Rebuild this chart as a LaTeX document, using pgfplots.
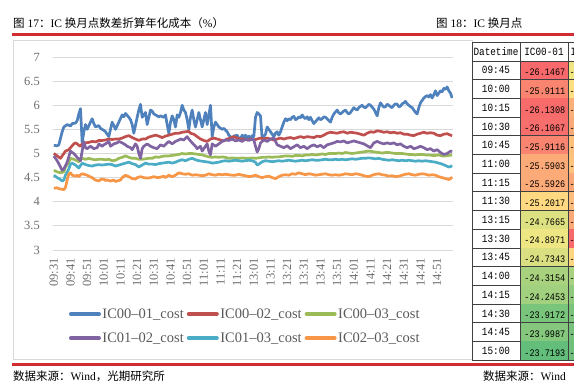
\documentclass[border=0pt]{standalone}
\usepackage{fontspec}
\usepackage{pgfplots}
\pgfplotsset{compat=1.18}
\setmainfont{Liberation Serif}
\newfontfamily\cjk{Noto Sans CJK SC}
\newfontfamily\tabfont[FakeStretch=0.85]{Liberation Mono}
\definecolor{s1}{HTML}{4F81BD}
\definecolor{s2}{HTML}{C0504D}
\definecolor{s3}{HTML}{9BBB59}
\definecolor{s4}{HTML}{8064A2}
\definecolor{s5}{HTML}{4BACC6}
\definecolor{s6}{HTML}{F79646}
\definecolor{gridc}{HTML}{D9D9D9}
\definecolor{tickc}{HTML}{6E6E6E}
\definecolor{legc}{HTML}{5A5A5A}
\definecolor{redline}{RGB}{208,44,50}
\definecolor{tabline}{HTML}{404040}
\definecolor{h0}{RGB}{248,105,107}
\definecolor{h1}{RGB}{249,133,112}
\definecolor{h2}{RGB}{248,107,107}
\definecolor{h3}{RGB}{248,110,108}
\definecolor{h4}{RGB}{249,133,112}
\definecolor{h5}{RGB}{252,171,120}
\definecolor{h6}{RGB}{252,171,120}
\definecolor{h7}{RGB}{254,217,129}
\definecolor{h8}{RGB}{222,225,130}
\definecolor{h9}{RGB}{237,230,131}
\definecolor{h10}{RGB}{218,224,130}
\definecolor{h11}{RGB}{169,210,127}
\definecolor{h12}{RGB}{161,208,127}
\definecolor{h13}{RGB}{122,197,124}
\definecolor{h14}{RGB}{132,199,125}
\definecolor{h15}{RGB}{99,190,123}
\definecolor{g0}{RGB}{240,229,131}
\definecolor{g1}{RGB}{253,222,129}
\definecolor{g2}{RGB}{251,176,121}
\definecolor{g3}{RGB}{251,170,119}
\definecolor{g4}{RGB}{253,192,124}
\definecolor{g5}{RGB}{253,195,125}
\definecolor{g6}{RGB}{251,166,119}
\definecolor{g7}{RGB}{252,188,123}
\definecolor{g8}{RGB}{251,170,119}
\definecolor{g9}{RGB}{248,105,107}
\definecolor{g10}{RGB}{254,214,128}
\definecolor{g11}{RGB}{168,210,127}
\definecolor{g12}{RGB}{143,202,125}
\definecolor{g13}{RGB}{124,196,124}
\definecolor{g14}{RGB}{118,194,124}
\definecolor{g15}{RGB}{110,192,123}
\begin{document}
\begin{tikzpicture}[x=1pt,y=1pt]
\useasboundingbox (0,0) rectangle (574,385);
% titles
\node[anchor=base west, inner sep=0pt, font=\fontsize{11.5}{13}\selectfont] at (13,357)
  {{\cjk 图} 17{\cjk ：}IC {\cjk 换月点数差折算年化成本（}\%{\cjk ）}};
\node[anchor=base west, inner sep=0pt, font=\fontsize{11.5}{13}\selectfont] at (436,357)
  {{\cjk 图} 18{\cjk ：}IC {\cjk 换月点}};
\fill[redline] (12,348.5) rectangle (574,351.5);
\fill[redline] (12,18.5) rectangle (574,21.5);
\node[anchor=base west, inner sep=0pt, font=\fontsize{11.5}{13}\selectfont] at (13,4)
  {{\cjk 数据来源：}Wind{\cjk ，光期研究所}};
\node[anchor=base west, inner sep=0pt, font=\fontsize{11.5}{13}\selectfont] at (483,4)
  {{\cjk 数据来源：}Wind};
% chart frame
\draw[gridc, line width=0.8pt] (13,26) rectangle (472,345);
% table
\def\rowh{18.7}
\node[font=\tabfont\fontsize{11}{12}\selectfont] at (496,333) {Datetime};
\node[font=\tabfont\fontsize{11}{12}\selectfont] at (544,333) {IC00-01};
\node[anchor=west, inner sep=0pt, font=\tabfont\fontsize{11}{12}\selectfont] at (570.5,333) {IC00-02};
\foreach \t/\v [count=\k from 0] in {09:45/-26.1467,10:00/-25.9111,10:15/-26.1308,10:30/-26.1067,10:45/-25.9116,11:00/-25.5903,11:15/-25.5926,11:30/-25.2017,13:15/-24.7665,13:30/-24.8971,13:45/-24.7343,14:00/-24.3154,14:15/-24.2453,14:30/-23.9172,14:45/-23.9987,15:00/-23.7193}{
  \pgfmathsetmacro\ytop{324-\rowh*\k}
  \pgfmathsetmacro\ybot{\ytop-\rowh}
  \fill[h\k] (520,\ybot) rectangle (568,\ytop);
  \fill[g\k] (568,\ybot) rectangle (580,\ytop);
  \node[font=\tabfont\fontsize{11}{12}\selectfont] at (496,{(\ytop+\ybot)/2}) {\t};
  \node[anchor=base east, inner sep=0pt, font=\tabfont\fontsize{10}{11}\selectfont] at (565.5,\ybot+4) {\v};
  \node[anchor=base west, inner sep=0pt, font=\tabfont\fontsize{10}{11}\selectfont] at (569.3,\ybot+4) {-};
  \draw[tabline, line width=0.8pt] (472,\ybot) -- (580,\ybot);
}
\draw[tabline, line width=0.8pt] (472,342.3) -- (580,342.3);
\draw[tabline, line width=0.8pt] (472,324) -- (580,324);
\foreach \xx in {472,520,568}{\draw[tabline, line width=0.8pt] (\xx,342.3) -- (\xx,24.8);}
% chart
\begin{axis}[
  at={(53pt,135pt)}, anchor=south west,
  width=400pt, height=193pt, scale only axis,
  xmin=-0.5, xmax=239.5, ymin=3, ymax=7,
  enlargelimits=false,
  ytick={3,3.5,4,4.5,5,5.5,6,6.5,7},
  xtick={0,10,...,230},
  xticklabels={09:31,09:41,09:51,10:01,10:11,10:21,10:31,10:41,10:51,11:01,11:11,11:21,13:01,13:11,13:21,13:31,13:41,13:51,14:01,14:11,14:21,14:31,14:41,14:51},
  axis line style={draw=none},
  tick style={draw=none},
  major tick length=0pt,
  ymajorgrids,
  grid style={gridc, line width=0.9pt},
  tick label style={font=\fontsize{12.5}{14}\selectfont, text=tickc},
  xticklabel style={rotate=90, anchor=east, inner sep=0pt},
  xticklabel shift=8pt,
  yticklabel style={anchor=east, inner sep=0pt},
  yticklabel shift=13pt,
  /pgf/number format/assume math mode=true,
  every axis plot/.append style={line width=2.7pt, line join=round, mark=none},
  legend columns=3,
  legend cell align=left,
  legend image code/.code={\draw[line width=4pt, line cap=round] (2pt,0pt) -- (30pt,0pt);},
  legend style={at={(0.48,-0.394)}, anchor=center, draw=none, fill=none,
    font=\fontsize{14.5}{16}\selectfont, text=legc, inner sep=0pt,
    nodes={inner xsep=1.5pt, inner ysep=1pt},
    /tikz/every even column/.append style={column sep=1.5pt},
    row sep=11pt},
]
\addplot[s1] coordinates {(0,5.17)(2,5.16)(3,5.18)(5,5.45)(6,5.55)(8,5.6)(10,5.57)(11,5.62)(13,5.63)(14,5.68)(15,5.82)(16,5.93)(17,5.22)(18,5.45)(19,5.6)(20,5.5)(22,5.65)(23,5.72)(24,5.62)(25,5.55)(27,5.58)(28,5.52)(30,5.48)(31,5.45)(33,5.35)(34,5.5)(35,5.65)(36,5.58)(37,5.5)(39,5.65)(41,5.8)(42,5.76)(43,5.83)(45,5.75)(46,5.7)(47,5.6)(48,5.42)(50,5.75)(51,5.9)(52,6.02)(53,5.75)(54,5.8)(55,5.85)(56,5.6)(57,5.75)(58,5.9)(59,5.88)(60,5.82)(61,5.8)(63,5.76)(64,5.78)(66,5.75)(67,5.8)(68,5.6)(69,5.42)(70,5.65)(71,5.78)(72,5.7)(73,5.55)(74,5.8)(75,5.75)(76,5.85)(77,6.0)(78,5.9)(79,5.85)(80,5.7)(81,5.5)(82,5.75)(83,5.9)(84,5.7)(85,5.55)(86,5.7)(87,5.85)(88,5.7)(89,5.55)(90,5.7)(91,5.85)(92,5.6)(93,5.8)(94,6.0)(95,5.35)(96,5.55)(97,5.65)(98,5.6)(99,5.55)(101,5.5)(102,5.52)(104,5.45)(105,5.38)(106,5.35)(107,5.3)(108,5.36)(110,5.38)(111,5.32)(112,5.3)(113,5.38)(114,5.34)(115,5.38)(116,5.32)(117,5.36)(118,5.3)(119,5.37)(120,5.35)(121,5.75)(122,5.85)(123,5.82)(124,5.78)(125,5.3)(126,5.35)(127,5.4)(128,5.55)(129,5.5)(130,5.45)(131,5.4)(132,5.35)(133,5.42)(134,5.45)(135,5.38)(136,5.45)(137,5.55)(138,5.65)(139,5.72)(140,5.68)(141,5.72)(142,5.7)(143,5.75)(144,5.77)(145,5.7)(146,5.72)(147,5.76)(148,5.74)(149,5.8)(150,5.75)(151,5.72)(152,5.76)(153,5.7)(154,5.75)(155,5.68)(156,5.62)(157,5.66)(158,5.7)(159,5.74)(160,5.7)(161,5.72)(162,5.76)(163,5.75)(164,5.72)(165,5.68)(166,5.65)(167,5.75)(168,5.82)(169,5.86)(170,5.9)(171,5.84)(172,5.82)(173,5.85)(174,5.88)(175,5.9)(176,5.85)(177,5.82)(178,5.85)(179,5.9)(180,5.95)(181,5.92)(182,5.9)(183,5.95)(184,5.98)(185,6.0)(186,5.96)(187,5.95)(188,5.98)(189,6.02)(190,6.0)(191,5.96)(192,5.92)(193,5.85)(194,5.78)(195,5.95)(196,6.05)(197,6.0)(198,5.96)(199,5.97)(200,6.02)(201,6.0)(202,5.97)(203,5.95)(204,6.0)(205,6.03)(206,6.02)(207,5.97)(208,5.98)(209,6.03)(210,6.05)(211,6.08)(212,6.03)(213,6.0)(214,5.97)(215,5.95)(216,5.9)(217,5.85)(218,5.82)(219,5.95)(220,6.05)(221,6.1)(222,6.15)(223,6.18)(224,6.2)(225,6.17)(226,6.22)(227,6.15)(228,6.22)(229,6.3)(230,6.2)(231,6.25)(232,6.3)(233,6.28)(234,6.35)(235,6.33)(236,6.38)(237,6.3)(238,6.25)(239,6.15)};
\addlegendentry{IC00–01\_cost}
\addplot[s2] coordinates {(0,5.0)(2,4.95)(4,4.9)(6,5.0)(7,5.05)(9,5.08)(10,5.12)(12,5.2)(13,5.22)(14,5.2)(15,5.17)(16,5.15)(17,5.2)(19,5.22)(21,5.23)(23,5.25)(25,5.24)(27,5.27)(29,5.27)(31,5.28)(33,5.3)(35,5.29)(37,5.3)(39,5.3)(41,5.32)(43,5.35)(45,5.37)(47,5.33)(49,5.3)(51,5.27)(53,5.3)(55,5.3)(57,5.34)(59,5.36)(61,5.38)(63,5.36)(65,5.33)(67,5.36)(69,5.38)(71,5.4)(73,5.42)(75,5.42)(77,5.44)(79,5.45)(81,5.46)(82,5.42)(84,5.4)(86,5.35)(88,5.3)(90,5.27)(92,5.25)(94,5.3)(96,5.32)(98,5.3)(100,5.28)(102,5.26)(104,5.3)(106,5.32)(108,5.35)(110,5.32)(112,5.3)(114,5.3)(116,5.28)(118,5.3)(120,5.28)(122,5.3)(124,5.32)(126,5.3)(128,5.32)(130,5.3)(132,5.28)(134,5.3)(136,5.32)(138,5.3)(140,5.32)(142,5.33)(144,5.31)(146,5.33)(148,5.35)(150,5.33)(152,5.35)(154,5.34)(156,5.33)(158,5.36)(160,5.35)(162,5.38)(164,5.42)(166,5.44)(168,5.43)(170,5.42)(172,5.44)(174,5.45)(176,5.42)(178,5.44)(180,5.43)(182,5.42)(184,5.4)(186,5.38)(188,5.42)(190,5.45)(192,5.44)(194,5.47)(196,5.46)(198,5.44)(200,5.45)(202,5.43)(204,5.44)(206,5.42)(208,5.43)(210,5.4)(212,5.4)(214,5.38)(216,5.37)(218,5.4)(220,5.42)(222,5.44)(224,5.42)(226,5.43)(228,5.42)(230,5.38)(232,5.37)(234,5.4)(236,5.41)(238,5.38)(239,5.37)};
\addlegendentry{IC00–02\_cost}
\addplot[s3] coordinates {(0,4.65)(2,4.62)(4,4.6)(6,4.62)(7,4.72)(9,4.82)(10,4.9)(12,4.88)(14,4.85)(15,4.83)(17,4.9)(19,4.88)(21,4.9)(23,4.88)(25,4.87)(27,4.88)(29,4.88)(31,4.87)(33,4.88)(35,4.85)(37,4.86)(39,4.9)(41,4.92)(43,4.95)(45,4.92)(47,4.9)(49,4.9)(51,4.88)(53,4.88)(55,4.89)(57,4.9)(59,4.9)(61,4.93)(63,4.92)(65,4.94)(67,4.95)(69,4.95)(71,4.96)(73,4.97)(75,4.98)(77,5.0)(79,4.99)(81,5.0)(83,5.0)(85,4.99)(87,4.98)(89,4.97)(91,4.95)(93,4.93)(95,4.92)(97,4.93)(99,4.92)(101,4.93)(103,4.92)(105,4.9)(107,4.91)(109,4.9)(111,4.9)(113,4.91)(115,4.9)(117,4.9)(119,4.91)(121,4.9)(123,4.91)(125,4.92)(127,4.92)(129,4.93)(131,4.92)(133,4.93)(135,4.93)(137,4.94)(139,4.95)(141,4.95)(143,4.94)(145,4.96)(147,4.96)(149,4.95)(151,4.97)(153,4.97)(155,4.98)(157,4.97)(159,4.98)(161,4.99)(163,4.98)(165,5.0)(167,5.0)(169,5.0)(171,5.01)(173,5.0)(175,5.02)(177,5.01)(179,5.0)(181,5.01)(183,5.02)(185,5.03)(187,5.04)(189,5.05)(191,5.04)(193,5.03)(195,5.02)(197,5.01)(199,5.02)(201,5.02)(203,5.01)(205,5.0)(207,5.0)(209,5.0)(211,4.99)(213,4.98)(215,4.98)(217,4.97)(219,4.98)(221,4.98)(223,4.97)(225,4.97)(227,4.96)(229,4.96)(231,4.97)(233,4.95)(235,4.95)(237,4.96)(239,4.97)};
\addlegendentry{IC00–03\_cost}
\addplot[s4] coordinates {(0,4.95)(2,4.85)(4,4.72)(5,4.65)(6,4.68)(8,4.82)(10,5.05)(11,5.02)(12,5.0)(14,4.92)(16,4.85)(17,5.05)(18,5.25)(19,5.12)(20,5.1)(22,5.15)(24,5.1)(26,5.12)(27,5.2)(29,5.15)(30,5.18)(32,5.22)(33,5.25)(34,5.15)(36,5.2)(38,5.22)(39,5.25)(41,5.22)(43,5.18)(44,5.15)(46,5.12)(47,5.08)(49,5.2)(50,5.15)(51,5.0)(52,4.9)(53,5.1)(54,5.15)(56,5.2)(58,5.15)(60,5.12)(62,5.1)(64,5.18)(66,5.15)(68,5.22)(69,5.25)(71,5.2)(73,5.25)(75,5.28)(76,5.3)(78,5.28)(80,5.35)(81,5.3)(83,5.22)(85,5.15)(86,5.1)(88,5.15)(89,5.05)(90,5.1)(92,5.2)(93,5.05)(94,4.97)(95,5.2)(97,5.15)(99,5.2)(101,5.25)(103,5.28)(105,5.27)(107,5.3)(109,5.26)(111,5.28)(113,5.25)(115,5.3)(117,5.27)(119,5.3)(120,5.28)(121,5.15)(122,5.03)(123,5.1)(124,5.22)(126,5.28)(128,5.25)(130,5.3)(132,5.32)(134,5.18)(136,5.15)(138,5.12)(140,5.16)(142,5.1)(144,5.14)(146,5.18)(148,5.12)(150,5.15)(152,5.1)(154,5.15)(156,5.18)(158,5.14)(160,5.17)(162,5.12)(164,5.18)(166,5.2)(168,5.22)(170,5.25)(172,5.24)(174,5.26)(176,5.22)(178,5.24)(180,5.26)(182,5.24)(184,5.22)(186,5.2)(188,5.16)(190,5.12)(192,5.22)(194,5.25)(196,5.22)(198,5.2)(200,5.22)(202,5.2)(204,5.22)(206,5.18)(208,5.2)(210,5.15)(212,5.12)(214,5.15)(216,5.1)(218,5.12)(220,5.15)(222,5.12)(224,5.08)(226,5.1)(228,5.05)(230,5.08)(232,5.02)(234,4.98)(236,5.0)(238,5.05)(239,5.04)};
\addlegendentry{IC01–02\_cost}
\addplot[s5] coordinates {(0,4.55)(2,4.5)(4,4.46)(5,4.43)(6,4.45)(7,4.55)(9,4.68)(10,4.78)(11,4.8)(13,4.76)(14,4.73)(15,4.7)(17,4.8)(19,4.77)(21,4.75)(23,4.74)(25,4.76)(27,4.77)(29,4.76)(31,4.77)(33,4.78)(35,4.77)(37,4.74)(39,4.76)(41,4.78)(43,4.8)(45,4.82)(47,4.79)(49,4.77)(51,4.72)(53,4.76)(55,4.8)(57,4.78)(59,4.78)(61,4.77)(63,4.79)(65,4.8)(67,4.81)(69,4.82)(71,4.8)(73,4.82)(75,4.85)(77,4.87)(79,4.85)(81,4.88)(83,4.9)(85,4.87)(87,4.85)(89,4.84)(91,4.83)(93,4.82)(95,4.8)(97,4.81)(99,4.82)(101,4.84)(103,4.85)(105,4.84)(107,4.85)(109,4.86)(111,4.85)(113,4.84)(115,4.85)(117,4.86)(119,4.85)(121,4.82)(122,4.76)(123,4.78)(125,4.83)(127,4.85)(129,4.84)(131,4.83)(133,4.84)(135,4.85)(137,4.84)(139,4.85)(141,4.86)(143,4.85)(145,4.84)(147,4.85)(149,4.86)(151,4.85)(153,4.86)(155,4.87)(157,4.86)(159,4.86)(161,4.87)(163,4.88)(165,4.87)(167,4.87)(169,4.88)(171,4.87)(173,4.88)(175,4.87)(177,4.88)(179,4.89)(181,4.88)(183,4.89)(185,4.9)(187,4.9)(189,4.91)(191,4.9)(193,4.89)(195,4.9)(197,4.88)(199,4.87)(201,4.86)(203,4.87)(205,4.86)(207,4.85)(209,4.86)(211,4.85)(213,4.86)(215,4.85)(217,4.84)(219,4.85)(221,4.84)(223,4.85)(225,4.84)(227,4.83)(229,4.82)(231,4.8)(233,4.78)(235,4.75)(237,4.72)(238,4.73)(239,4.75)};
\addlegendentry{IC01–03\_cost}
\addplot[s6] coordinates {(0,4.28)(2,4.29)(3,4.27)(5,4.26)(6,4.25)(7,4.3)(8,4.45)(9,4.58)(10,4.6)(11,4.55)(13,4.53)(14,4.55)(15,4.52)(16,4.56)(17,4.58)(19,4.56)(20,4.55)(21,4.53)(23,4.5)(24,4.47)(25,4.45)(27,4.43)(28,4.46)(30,4.47)(31,4.44)(32,4.45)(34,4.43)(36,4.45)(37,4.42)(38,4.43)(40,4.45)(41,4.5)(43,4.55)(45,4.52)(46,4.5)(47,4.48)(49,4.47)(50,4.5)(52,4.52)(54,4.5)(56,4.49)(58,4.5)(60,4.52)(62,4.5)(64,4.51)(66,4.53)(67,4.5)(69,4.55)(71,4.52)(73,4.55)(75,4.6)(77,4.58)(79,4.57)(81,4.58)(83,4.55)(85,4.56)(87,4.55)(89,4.54)(91,4.55)(93,4.58)(95,4.56)(97,4.55)(99,4.57)(101,4.56)(103,4.57)(105,4.56)(107,4.55)(109,4.55)(111,4.57)(113,4.55)(115,4.54)(117,4.52)(119,4.53)(121,4.55)(123,4.52)(125,4.5)(127,4.52)(129,4.53)(131,4.5)(133,4.48)(135,4.52)(137,4.55)(139,4.56)(141,4.55)(143,4.58)(145,4.57)(147,4.6)(149,4.58)(151,4.56)(153,4.58)(155,4.57)(157,4.55)(159,4.56)(161,4.57)(163,4.58)(165,4.56)(167,4.55)(169,4.56)(171,4.55)(173,4.56)(175,4.58)(177,4.57)(179,4.56)(181,4.58)(183,4.57)(185,4.55)(187,4.53)(189,4.52)(191,4.55)(193,4.57)(195,4.58)(197,4.56)(199,4.55)(201,4.53)(203,4.54)(205,4.52)(207,4.53)(209,4.55)(211,4.57)(213,4.58)(215,4.56)(217,4.55)(219,4.57)(221,4.58)(223,4.57)(225,4.55)(227,4.56)(229,4.55)(231,4.52)(233,4.5)(235,4.48)(237,4.46)(238,4.48)(239,4.51)};
\addlegendentry{IC02–03\_cost}
\end{axis}
\end{tikzpicture}
\end{document}
